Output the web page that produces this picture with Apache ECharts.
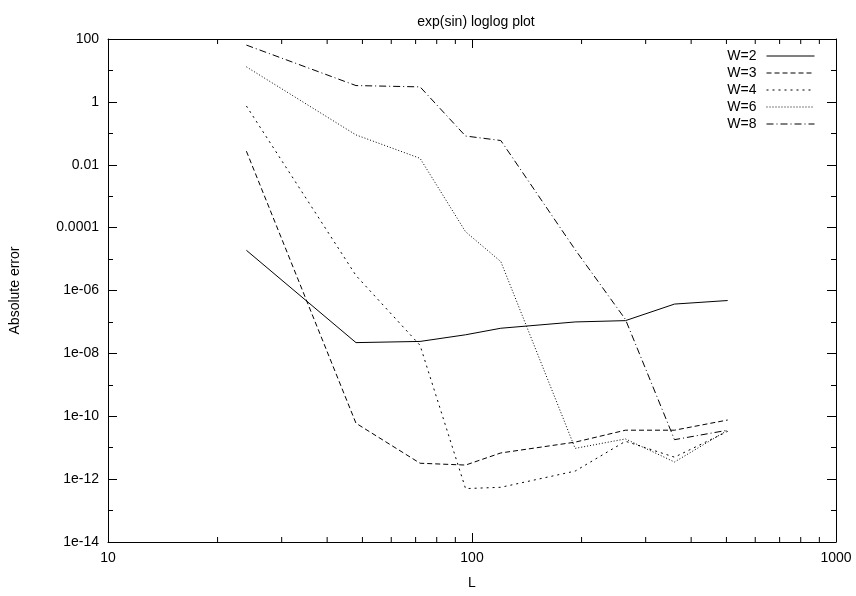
<!DOCTYPE html>
<html>
<head>
<meta charset="utf-8">
<script src="https://cdn.jsdelivr.net/npm/echarts@6/dist/echarts.min.js"></script>
<style>
  html, body { margin: 0; padding: 0; background: #fff; }
  #chart { width: 856px; height: 596px; }
</style>
</head>
<body>
<div id="chart"></div>
<script>
// L values (x) and absolute errors per W
var L = [24, 48, 72, 96, 120, 192, 264, 360, 504];
var W2 = [1.9e-5, 2.2e-8, 2.4e-8, 3.9e-8, 6.3e-8, 1.0e-7, 1.1e-7, 3.7e-7, 4.8e-7];
var W3 = [0.027, 6e-11, 3.2e-12, 2.8e-12, 6.8e-12, 1.5e-11, 3.6e-11, 3.6e-11, 7.6e-11];
var W4 = [0.74, 3e-6, 1.8e-8, 5e-13, 5.5e-13, 1.8e-12, 1.6e-11, 5e-12, 3.3e-11];
var W6 = [13, 0.089, 0.016, 7.4e-5, 8.3e-6, 9.5e-12, 1.9e-11, 3.5e-12, 3.6e-11];
var W8 = [64, 3.3, 3.0, 0.082, 0.059, 2e-5, 1.2e-7, 1.8e-11, 3.6e-11];

var xTickLabels = ['10', '100', '1000'];
var yTickLabels = ['1e-14', '1e-12', '1e-10', '1e-08', '1e-06', '0.0001', '0.01', '1', '100'];
var xMinor = [20, 30, 40, 50, 60, 70, 80, 90, 200, 300, 400, 500, 600, 700, 800, 900];

var font = 'Liberation Sans, Arial, sans-serif';
var lg = Math.log10;

function pairs(ys) {
    return L.map(function (x, i) { return [lg(x), lg(ys[i])]; });
}

function mkLine(name, ys, dash) {
    return {
        name: name,
        type: 'line',
        data: pairs(ys),
        symbol: 'none',
        lineStyle: { color: '#000', width: 1, type: dash },
        itemStyle: { color: '#000' },
        emphasis: { disabled: true },
        animation: false
    };
}

var myChart = echarts.init(document.getElementById('chart'));

var baseAxis = {
    type: 'value',
    axisLine: { show: true, onZero: false, lineStyle: { color: '#000', width: 1 } },
    axisTick: { show: true, inside: true, length: 9, lineStyle: { color: '#000' } },
    splitLine: { show: false }
};

var option = {
    backgroundColor: '#fff',
    animation: false,
    title: {
        text: 'exp(sin) loglog plot',
        left: 471,
        top: 10,
        textAlign: 'center',
        textStyle: { fontFamily: font, fontSize: 14, fontWeight: 'normal', color: '#000' }
    },
    legend: {
        orient: 'vertical',
        right: 36,
        top: 44,
        align: 'right',
        itemWidth: 48,
        itemHeight: 10,
        itemGap: 3,
        itemStyle: { opacity: 0 },
        lineStyle: { width: 1 },
        textStyle: { fontFamily: font, fontSize: 14, color: '#000', padding: [0, 5, 0, 0] },
        data: ['W=2', 'W=3', 'W=4', 'W=6', 'W=8']
    },
    grid: { left: 107, right: 20, top: 39, bottom: 54 },
    xAxis: [
        Object.assign({}, baseAxis, {
            position: 'bottom',
            min: 1, max: 3, interval: 1,
            name: 'L',
            nameLocation: 'middle',
            nameGap: 34,
            nameTextStyle: { fontFamily: font, fontSize: 14, color: '#000' },
            axisLabel: {
                margin: 9,
                fontFamily: font, fontSize: 14, color: '#000',
                formatter: function (v) { return xTickLabels[Math.round(v) - 1]; }
            }
        }),
        Object.assign({}, baseAxis, {
            position: 'top',
            min: 1, max: 3, interval: 1,
            axisLabel: { show: false }
        })
    ],
    yAxis: [
        Object.assign({}, baseAxis, {
            position: 'left',
            min: -14, max: 2, interval: 2,
            name: 'Absolute error',
            nameLocation: 'middle',
            nameRotate: 90,
            nameGap: 86,
            nameTextStyle: { fontFamily: font, fontSize: 14, color: '#000' },
            minorTick: { show: true, splitNumber: 2, length: 5, lineStyle: { color: '#000' } },
            axisLabel: {
                margin: 9,
                fontFamily: font, fontSize: 14, color: '#000',
                formatter: function (v) { return yTickLabels[Math.round((v + 14) / 2)]; }
            }
        }),
        Object.assign({}, baseAxis, {
            position: 'right',
            min: -14, max: 2, interval: 2,
            minorTick: { show: true, splitNumber: 2, length: 5, lineStyle: { color: '#000' } },
            axisLabel: { show: false }
        })
    ],
    series: [
        mkLine('W=2', W2, 'solid'),
        mkLine('W=3', W3, [5, 3]),
        mkLine('W=4', W4, [2, 4]),
        mkLine('W=6', W6, [1, 2]),
        mkLine('W=8', W8, [7, 3, 1, 3]),
        {
            // log-spaced minor ticks on bottom and top x axes
            type: 'custom',
            silent: true,
            animation: false,
            clip: false,
            data: xMinor.map(function (v) { return [lg(v), -14]; }),
            renderItem: function (params, api) {
                var b = api.coord([api.value(0), -14]);
                var t = api.coord([api.value(0), 2]);
                var st = { stroke: '#000', lineWidth: 1 };
                return {
                    type: 'group',
                    children: [
                        { type: 'line', shape: { x1: b[0], y1: b[1], x2: b[0], y2: b[1] - 5 }, style: st },
                        { type: 'line', shape: { x1: t[0], y1: t[1], x2: t[0], y2: t[1] + 5 }, style: st }
                    ]
                };
            }
        }
    ]
};

myChart.setOption(option);
</script>
</body>
</html>
